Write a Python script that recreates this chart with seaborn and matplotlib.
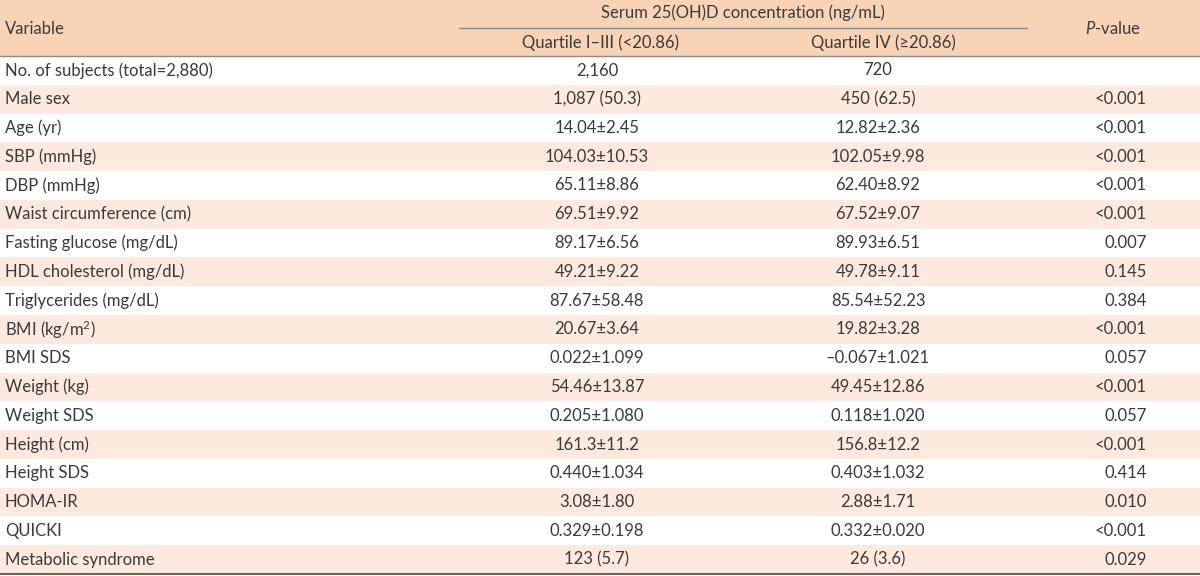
import matplotlib
matplotlib.use("Agg")
import matplotlib.pyplot as plt
import seaborn as sns

variables = [
    "No. of subjects (total=2,880)", "Male sex", "Age (yr)", "SBP (mmHg)", "DBP (mmHg)",
    "Waist circumference (cm)", "Fasting glucose (mg/dL)", "HDL cholesterol (mg/dL)",
    "Triglycerides (mg/dL)", "BMI (kg/m$^2$)", "BMI SDS", "Weight (kg)", "Weight SDS",
    "Height (cm)", "Height SDS", "HOMA-IR", "QUICKI", "Metabolic syndrome",
]
quartile_1_3 = [
    "2,160", "1,087 (50.3)", "14.04±2.45", "104.03±10.53", "65.11±8.86", "69.51±9.92",
    "89.17±6.56", "49.21±9.22", "87.67±58.48", "20.67±3.64", "0.022±1.099", "54.46±13.87",
    "0.205±1.080", "161.3±11.2", "0.440±1.034", "3.08±1.80", "0.329±0.198", "123 (5.7)",
]
quartile_4 = [
    "720", "450 (62.5)", "12.82±2.36", "102.05±9.98", "62.40±8.92", "67.52±9.07",
    "89.93±6.51", "49.78±9.11", "85.54±52.23", "19.82±3.28", "–0.067±1.021", "49.45±12.86",
    "0.118±1.020", "156.8±12.2", "0.403±1.032", "2.88±1.71", "0.332±0.020", "26 (3.6)",
]
p_values = [
    "", "<0.001", "<0.001", "<0.001", "<0.001", "<0.001", "0.007", "0.145", "0.384",
    "<0.001", "0.057", "<0.001", "0.057", "<0.001", "0.414", "0.010", "<0.001", "0.029",
]

sns.set_theme(style="white")
plt.rcParams["font.family"] = ["Lato", "DejaVu Sans"]
plt.rcParams["mathtext.fontset"] = "custom"
plt.rcParams["mathtext.rm"] = "Lato"
plt.rcParams["mathtext.it"] = "Lato:italic"

header_color = "#f9d3b6"
band_color = "#fde9dd"
text_color = "#3a3a3a"
fs = 12

fig = plt.figure(figsize=(12, 5.76), dpi=100)
ax = fig.add_axes([0, 0, 1, 1])
ax.set_xlim(0, 1200)
ax.set_ylim(576, 0)
ax.axis("off")

header_h = 56
row_h = (574 - header_h) / (len(variables) + 1) if False else (574 - header_h) / len(variables)

# header
ax.axhspan(0, header_h, color=header_color, lw=0)
ax.plot([459, 1027], [28, 28], color="#8a8a8a", lw=1)
ax.axhline(header_h, color="#8a8a8a", lw=1)
ax.text(5, 29, "Variable", ha="left", va="center", fontsize=fs, color=text_color)
ax.text(743, 13, "Serum 25(OH)D concentration (ng/mL)", ha="center", va="center",
        fontsize=fs, color=text_color)
ax.text(600, 43, "Quartile I–III (<20.86)", ha="center", va="center", fontsize=fs, color=text_color)
ax.text(883, 43, "Quartile IV (≥20.86)", ha="center", va="center", fontsize=fs, color=text_color)
ax.text(1113, 29, "$\\it{P}$-value", ha="center", va="center", fontsize=fs, color=text_color)

for i, var in enumerate(variables):
    top = header_h + i * row_h
    yc = top + row_h / 2
    if i % 2 == 1:
        ax.axhspan(top, top + row_h, color=band_color, lw=0)
    ax.text(5, yc, var, ha="left", va="center", fontsize=fs, color=text_color)
    ax.text(597, yc, quartile_1_3[i], ha="center", va="center", fontsize=fs, color=text_color)
    ax.text(878, yc, quartile_4[i], ha="center", va="center", fontsize=fs, color=text_color)
    ax.text(1147, yc, p_values[i], ha="right", va="center", fontsize=fs, color=text_color)

ax.axhline(574, color="#666666", lw=1.5)

fig.savefig("out.png", dpi=100)
plt.close(fig)
